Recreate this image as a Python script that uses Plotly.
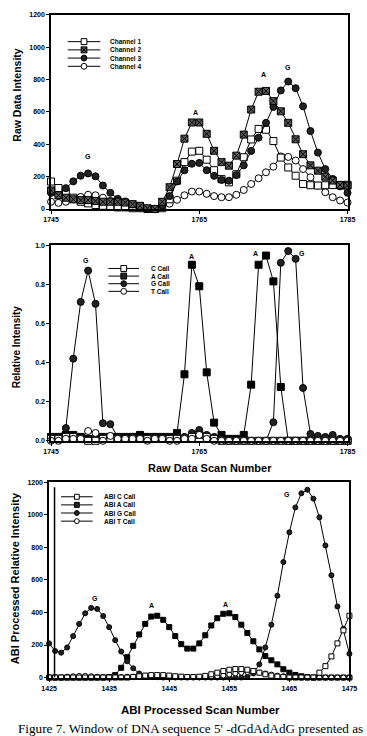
import plotly.graph_objects as go

W, H = 367, 736

# ---------------- data ----------------
raw_scan = list(range(1745, 1786))
raw_ch1 = [170, 130, 100, 70, 45, 35, 25, 20, 15, 10,
           10, 5, 5, 0, 0, 5, 60, 175, 290, 355,
           360, 305, 240, 185, 165, 215, 320, 430, 495, 490,
           420, 318, 257, 206, 155, 147, 145, 147, 148, 148, 150]
raw_ch2 = [115, 85, 70, 60, 55, 55, 50, 45, 45, 45,
           40, 30, 20, 5, 0, 45, 135, 278, 435, 535,
           535, 465, 360, 290, 268, 330, 460, 615, 725, 730,
           667, 604, 533, 431, 339, 270, 237, 200, 176, 149, 145]
raw_ch3 = [100, 84, 129, 171, 206, 220, 202, 145, 100, 63,
           47, 29, 16, 0, 0, 20, 80, 170, 240, 280,
           285, 240, 205, 180, 175, 210, 270, 359, 441, 533,
           631, 733, 788, 747, 635, 482, 349, 247, 186, 140, 100]
raw_ch4 = [45, 38, 45, 60, 75, 88, 85, 70, 50, 40,
           30, 15, 5, 0, 2, 15, 33, 57, 85, 108,
           108, 94, 80, 73, 73, 88, 118, 155, 190, 227,
           262, 325, 322, 300, 247, 196, 145, 104, 73, 53, 40]

rel_c = [0.01, 0.01, 0.02, 0.02, 0.01, 0.0, 0.0, 0.01, 0.01, 0.01,
         0.01, 0.01, 0.01, 0.01, 0.01, 0.01, 0.01, 0.01, 0.01, 0.02,
         0.03, 0.02, 0.01, 0, 0, 0, 0, 0, 0, 0,
         0, 0, 0, 0, 0, 0, 0, 0, 0, 0, 0]
rel_a = [0.02, 0.02, 0.03, 0.03, 0.02, 0.01, 0.01, 0.02, 0.02, 0.02,
         0.02, 0.02, 0.03, 0.02, 0.02, 0.02, 0.02, 0.04, 0.34, 0.90,
         0.79, 0.35, 0.093, 0.03, 0.01, 0.01, 0.03, 0.287, 0.90, 0.947,
         0.815, 0.275, 0, 0, 0, 0, 0, 0, 0, 0, 0]
rel_g = [0.02, 0.02, 0.065, 0.42, 0.71, 0.87, 0.70, 0.09, 0.085, 0.02,
         0.01, 0.02, 0.01, 0.01, 0.02, 0.01, 0.01, 0.02, 0.02, 0.04,
         0.055, 0.03, 0.02, 0.01, 0, 0, 0, 0, 0, 0,
         0.095, 0.91, 0.97, 0.93, 0.27, 0.035, 0.025, 0.02, 0.03, 0.01, 0.01]
rel_t = [0.0, 0.0, 0.01, 0.01, 0.01, 0.05, 0.04, 0.0, 0.025, 0.01,
         0.01, 0.01, 0.01, 0.0, 0.01, 0.01, 0.0, 0.0, 0.01, 0.01,
         0.03, 0.01, 0.0, 0, 0, 0, 0, 0, 0, 0,
         0, 0, 0, 0, 0, 0, 0, 0, 0, 0, 0]

abi_scan = list(range(1425, 1476))
abi_c = [0, 0, 0, 0, 0, 0, 0, 0, 0, 0,
         0, 0, 0, 0, 3, 8, 12, 15, 15, 15,
         12, 8, 5, 3, 3, 5, 10, 20, 30, 40,
         48, 52, 52, 48, 40, 30, 20, 12, 6, 3,
         0, 0, 0, 0, 0, 30, 70, 130, 210, 290, 380]
abi_a = [0, 0, 0, 0, 0, 0, 0, 0, 0, 0,
         3, 15, 60, 125, 195, 265, 330, 375, 380, 355,
         310, 255, 205, 178, 178, 210, 260, 320, 365, 392,
         395, 372, 325, 274, 223, 173, 132, 106, 81, 51,
         30, 16, 8, 3, 0, 0, 0, 0, 0, 0, 0]
abi_g = [210, 163, 153, 185, 255, 330, 395, 428, 422, 378,
         310, 230, 160, 100, 57, 25, 10, 5, 2, 0,
         0, 0, 0, 0, 0, 0, 0, 0, 0, 0,
         0, 0, 0, 5, 25, 81, 185, 325, 503, 710,
         893, 1046, 1133, 1155, 1100, 985, 812, 629, 437, 300, 146]
abi_t = [0, 0, 0, 5, 8, 10, 10, 8, 5, 3,
         2, 2, 3, 5, 5, 5, 5, 5, 5, 5,
         5, 5, 3, 2, 2, 2, 3, 5, 8, 12,
         18, 25, 30, 33, 33, 30, 25, 18, 12, 8,
         5, 3, 0, 0, 0, 0, 0, 0, 0, 0, 0]

raw_ticks = [1745, 1765, 1785]
abi_ticks = [1425, 1435, 1445, 1455, 1465, 1475]
int_ticks = [0, 200, 400, 600, 800, 1000, 1200]
rel_ticks = [0.0, 0.2, 0.4, 0.6, 0.8, 1.0]

raw_names = ["Channel 1", "Channel 2", "Channel 3", "Channel 4"]
rel_names = ["C Call", "A Call", "G Call", "T Call"]
abi_names = ["ABI C Call", "ABI A Call", "ABI G Call", "ABI T Call"]

raw_peaks = [("G", 1750, 325), ("A", 1764.5, 594), ("A", 1773.6, 833), ("G", 1777, 875)]
rel_peaks = [("G", 1749.7, 0.92), ("A", 1764, 0.94), ("A", 1772.6, 0.955), ("G", 1778.8, 0.955)]
abi_peaks = [("G", 1432.6, 487), ("A", 1442.1, 440), ("A", 1454.3, 450), ("G", 1464.6, 1127)]

# ---------------- styles ----------------
FONT = "Liberation Sans"
BLACK = "black"
XFILL = "#5a5a5a"


def mk(kind, size):
    if kind == "osq":
        return dict(symbol="square", size=size, color="white", line=dict(color=BLACK, width=1))
    if kind == "xsq":
        return dict(symbol="square-x", size=size, color=XFILL, line=dict(color=BLACK, width=1))
    if kind == "fsq":
        return dict(symbol="square", size=size, color=BLACK, line=dict(color=BLACK, width=1))
    if kind == "fci":
        return dict(symbol="circle", size=size, color="#222", line=dict(color=BLACK, width=1))
    return dict(symbol="circle", size=size, color="white", line=dict(color=BLACK, width=1))


fig = go.Figure()


def add(x, y, kind, size, xa, ya):
    fig.add_trace(go.Scatter(x=x, y=y, mode="lines+markers", xaxis=xa, yaxis=ya,
                             line=dict(color=BLACK, width=1), marker=mk(kind, size),
                             cliponaxis=False, showlegend=False, hoverinfo="skip"))


# panel 1
add(raw_scan, raw_ch4, "oci", 7, "x", "y")
add(raw_scan, raw_ch1, "osq", 7, "x", "y")
add(raw_scan, raw_ch3, "fci", 7, "x", "y")
add(raw_scan, raw_ch2, "xsq", 7, "x", "y")
# panel 2
add(raw_scan, rel_a, "fsq", 7, "x2", "y2")
add(raw_scan, rel_g, "fci", 7, "x2", "y2")
add(raw_scan, rel_c, "osq", 7, "x2", "y2")
add(raw_scan, rel_t, "oci", 7, "x2", "y2")
# panel 3
add(abi_scan, abi_a, "fsq", 5, "x3", "y3")
add(abi_scan, abi_g, "fci", 5, "x3", "y3")
add(abi_scan, abi_t, "oci", 5, "x3", "y3")
add(abi_scan, abi_c, "osq", 5, "x3", "y3")


def px(x):
    return x / W


def py(y):
    return 1 - y / H


tickfont = dict(family=FONT, size=7, color=BLACK, weight="bold")
axcommon = dict(showline=True, mirror=True, linecolor=BLACK, linewidth=1.5, ticks="outside",
                ticklen=3, tickwidth=1, tickcolor=BLACK, showgrid=False, zeroline=False,
                tickfont=tickfont)

fig.update_layout(
    width=W, height=H, margin=dict(l=0, r=0, t=0, b=0),
    paper_bgcolor="white", plot_bgcolor="white", showlegend=False,
    xaxis=dict(domain=[px(45), px(355)], range=[1745, 1785], tickvals=raw_ticks, anchor="y", **axcommon),
    yaxis=dict(domain=[py(207), py(11)], range=[0, 1200], tickvals=int_ticks, anchor="x", **axcommon),
    xaxis2=dict(domain=[px(45), px(355)], range=[1745, 1785], tickvals=raw_ticks, anchor="y2", **axcommon),
    yaxis2=dict(domain=[py(441), py(243.5)], range=[0, 1], tickvals=rel_ticks,
                ticktext=["%.1f" % v for v in rel_ticks], anchor="x2", **axcommon),
    xaxis3=dict(domain=[px(43), px(357)], range=[1425, 1475], tickvals=abi_ticks, anchor="y3", **axcommon),
    yaxis3=dict(domain=[py(680), py(483)], range=[0, 1200], tickvals=int_ticks, anchor="x3", **axcommon),
)

ann = []
shapes = []

# second vertical rule seen just inside the left frame of the bottom panel
shapes.append(dict(type="line", xref="x3", yref="y3", x0=1425.9, x1=1425.9, y0=0, y1=1170,
                   line=dict(color=BLACK, width=1.5)))


def text(x, y, s, size, angle=0, family=FONT, bold=True, xanchor="center"):
    ann.append(dict(x=px(x), y=py(y), xref="paper", yref="paper", text=("<b>%s</b>" % s) if bold else s,
                    showarrow=False, textangle=angle, xanchor=xanchor, yanchor="middle",
                    font=dict(family=family, size=size, color=BLACK)))


# axis titles
text(10, 92, "Raw Data Intensity", 10.5, angle=-90)
text(9, 346, "Relative Intensity", 10, angle=-90)
text(211, 468, "Raw Data Scan Number", 11)
text(8, 580, "ABI Processed Relative Intensity", 11, angle=-90)
text(201, 713, "ABI Processed Scan Number", 11.5)
text(191, 731, "Figure 7. Window of DNA sequence 5' -dGdAdAdG presented as", 13.2,
     family="Liberation Serif", bold=False)

# peak labels
for xa, ya, peaks in (("x", "y", raw_peaks), ("x2", "y2", rel_peaks), ("x3", "y3", abi_peaks)):
    for s, xv, yv in peaks:
        ann.append(dict(x=xv, y=yv, xref=xa, yref=ya, text="<b>%s</b>" % s, showarrow=False,
                        font=dict(family=FONT, size=7, color=BLACK)))


# legends (drawn as layout shapes)
def key(cx, cy, half, kind, size):
    shapes.append(dict(type="line", xref="paper", yref="paper", x0=px(cx - half), x1=px(cx + half),
                       y0=py(cy), y1=py(cy), line=dict(color=BLACK, width=1)))
    r = size / 2
    fill = "white" if kind in ("osq", "oci") else (XFILL if kind == "xsq" else "#222")
    typ = "circle" if kind in ("oci", "fci") else "rect"
    shapes.append(dict(type=typ, xref="paper", yref="paper", x0=px(cx - r), x1=px(cx + r),
                       y0=py(cy + r), y1=py(cy - r), fillcolor=fill, line=dict(color=BLACK, width=1)))
    if kind == "xsq":
        for a, b in ((-1, 1), (1, -1)):
            shapes.append(dict(type="line", xref="paper", yref="paper", x0=px(cx - r), x1=px(cx + r),
                               y0=py(cy + a * r), y1=py(cy + b * r), line=dict(color=BLACK, width=1)))


def legend(names, kinds, xline, xtext, y0, dy, half, size):
    for i, (n, k) in enumerate(zip(names, kinds)):
        cy = y0 + i * dy
        key(xline, cy, half, k, size)
        text(xtext, cy, n, 6.5, xanchor="left")


legend(raw_names, ["osq", "xsq", "fci", "oci"], 79.5, 105, 38, 8.3, 17, 6)
legend(rel_names, ["osq", "fsq", "fci", "oci"], 121, 147, 267, 7.7, 16, 6)
legend(abi_names, ["osq", "fsq", "fci", "oci"], 72, 98, 497.5, 8.2, 16.5, 5)

fig.update_layout(annotations=ann, shapes=shapes)

fig.write_html("out.html", config={"displayModeBar": False})
